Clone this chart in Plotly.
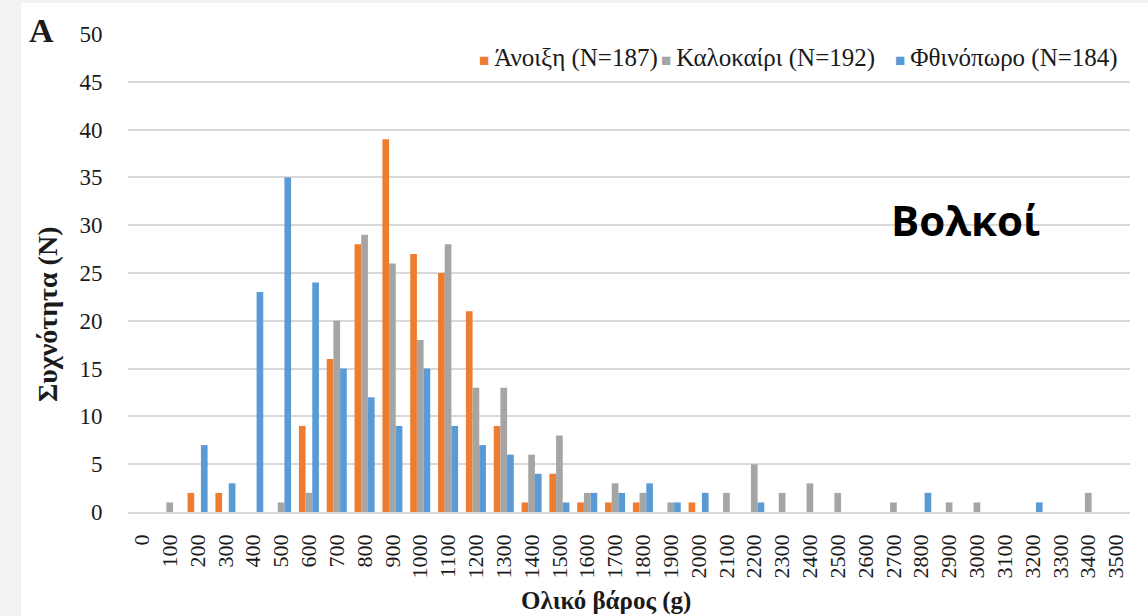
import plotly.graph_objects as go

# Weight classes (g)
weight_classes = ["0", "100", "200", "300", "400", "500", "600", "700", "800", "900",
                  "1000", "1100", "1200", "1300", "1400", "1500", "1600", "1700", "1800",
                  "1900", "2000", "2100", "2200", "2300", "2400", "2500", "2600", "2700",
                  "2800", "2900", "3000", "3100", "3200", "3300", "3400", "3500"]

# Frequency per weight class, one list per season
spring = [0, 0, 2, 2, 0, 0, 9, 16, 28, 39, 27, 25, 21, 9, 1, 4, 1, 1, 1,
          0, 1, 0, 0, 0, 0, 0, 0, 0, 0, 0, 0, 0, 0, 0, 0, 0]
summer = [0, 1, 0, 0, 0, 1, 2, 20, 29, 26, 18, 28, 13, 13, 6, 8, 2, 3, 2,
          1, 0, 2, 5, 2, 3, 2, 0, 1, 0, 1, 1, 0, 0, 0, 2, 0]
autumn = [0, 0, 7, 3, 23, 35, 24, 15, 12, 9, 15, 9, 7, 6, 4, 1, 2, 2, 3,
          1, 2, 0, 1, 0, 0, 0, 0, 0, 2, 0, 0, 0, 1, 0, 0, 0]

series_names = ["Άνοιξη (N=187)", "Καλοκαίρι (N=192)", "Φθινόπωρο (N=184)"]
series_colors = ["#ED7D31", "#A5A5A5", "#5B9BD5"]

y_ticks = [0, 5, 10, 15, 20, 25, 30, 35, 40, 45, 50]

SERIF = "Liberation Serif, Times New Roman, serif"
INK = "#1a1a1a"
W, H = 1148, 616
ML, MR, MT, MB = 128, 18, 34, 104
PW, PH = W - ML - MR, H - MT - MB


def px_x(x):
    return (x - ML) / PW


def px_y(y):
    return (H - MB - y) / PH


fig = go.Figure()
for name, color, values in zip(series_names, series_colors, [spring, summer, autumn]):
    fig.add_trace(go.Bar(x=weight_classes, y=values, name=name,
                         marker=dict(color=color, line=dict(width=0))))

# Compact legend row: small colour square right before each label
legend_x = [477, 659, 893]
legend_notes = [
    dict(text=f'<span style="color:{c};font-size:17px">■</span>\u2009{n}',
         xref="paper", yref="paper", x=px_x(x0), y=px_y(58),
         xanchor="left", yanchor="middle", showarrow=False,
         font=dict(family=SERIF, size=25, color=INK))
    for n, c, x0 in zip(series_names, series_colors, legend_x)
]

fig.update_layout(
    width=W, height=H,
    margin=dict(l=ML, r=MR, t=MT, b=MB, autoexpand=False),
    paper_bgcolor="#F2F2F2",
    plot_bgcolor="white",
    barmode="group",
    bargap=0.28,
    bargroupgap=0,
    showlegend=False,
    font=dict(family=SERIF, color=INK, size=22),
    xaxis=dict(type="category", tickmode="array", tickvals=weight_classes,
               ticktext=weight_classes, tickangle=-90, showgrid=False,
               showline=True, linecolor="#D9D9D9", linewidth=1.5,
               ticks="outside", ticklen=12, tickcolor="rgba(0,0,0,0)",
               tickfont=dict(family=SERIF, size=22, color=INK)),
    yaxis=dict(range=[0, 50], tickvals=y_ticks, showgrid=True,
               gridcolor="#D9D9D9", gridwidth=1.5, zeroline=False,
               ticks="outside", ticklen=20, tickcolor="rgba(0,0,0,0)",
               tickfont=dict(family=SERIF, size=23, color=INK)),
    shapes=[dict(type="rect", xref="paper", yref="paper", layer="below",
                 x0=px_x(21), x1=px_x(W + 2), y0=px_y(H + 2), y1=px_y(3),
                 fillcolor="white", line=dict(width=0))],
    annotations=legend_notes + [
        dict(text="<b>Ολικό βάρος (g)</b>", xref="paper", yref="paper",
             x=px_x(606), y=px_y(601), xanchor="center", yanchor="middle",
             showarrow=False, font=dict(family=SERIF, size=25, color=INK)),
        dict(text="<b>Συχνότητα (N)</b>", textangle=-90, xref="paper", yref="paper",
             x=px_x(47), y=px_y(314), xanchor="center", yanchor="middle",
             showarrow=False, font=dict(family=SERIF, size=28, color=INK)),
        dict(text="<b>A</b>", xref="paper", yref="paper",
             x=px_x(41), y=px_y(30), xanchor="center", yanchor="middle",
             showarrow=False, font=dict(family=SERIF, size=34, color=INK)),
        dict(text="<b>Βολκοί</b>", xref="paper", yref="paper",
             x=px_x(965), y=px_y(219), xanchor="center", yanchor="middle",
             showarrow=False, font=dict(family="Open Sans, sans-serif", size=42,
                                        color="black")),
    ],
)

fig.write_html("out.html")
